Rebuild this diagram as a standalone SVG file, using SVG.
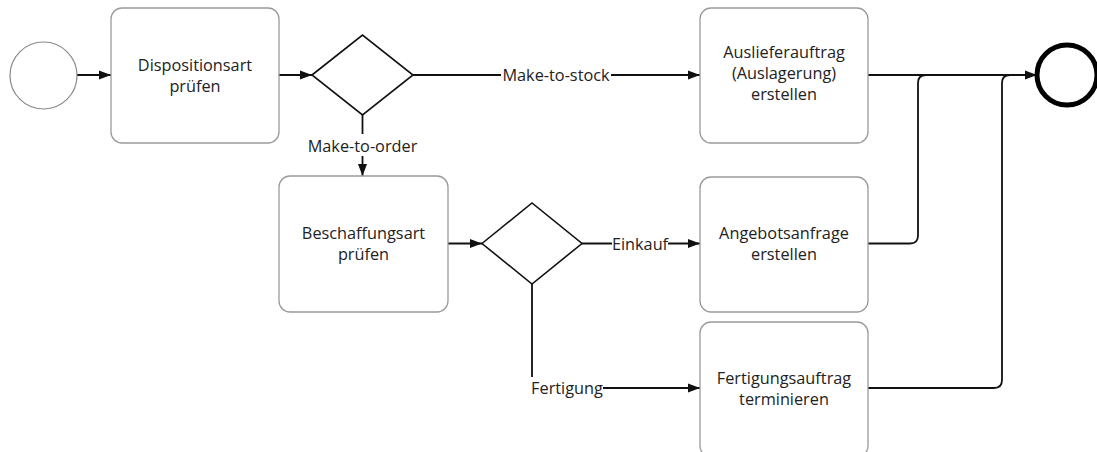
<svg xmlns="http://www.w3.org/2000/svg" width="1097" height="452" viewBox="0 0 1097 452">
<style>
.task{fill:#fff;stroke:#9a9a9a;stroke-width:1.3}
.t{font-family:"Open Sans","Liberation Sans",sans-serif;font-size:16.3px;fill:#222;text-anchor:middle}
.gw{fill:#fff;stroke:#111;stroke-width:1.6}
.c{fill:none;stroke:#111;stroke-width:1.8}
.lbl{font-family:"Open Sans","Liberation Sans",sans-serif;font-size:16.3px;fill:#222;text-anchor:middle}
</style>
<defs>
<marker id="ah" viewBox="0 0 12 10" refX="12" refY="5" markerWidth="12" markerHeight="10" markerUnits="userSpaceOnUse" orient="auto">
<path d="M0,0.5 L12,5 L0,9.5 Z" fill="#111"/>
</marker>
</defs>
<rect width="1097" height="452" fill="#fff"/>
<g id="connectors">
<path class="c" d="M77,75 H111" marker-end="url(#ah)"/>
<path class="c" d="M279,75 H312" marker-end="url(#ah)"/>
<path class="c" d="M413,75 H700" marker-end="url(#ah)"/>
<path class="c" d="M362.5,115 V176" marker-end="url(#ah)"/>
<path class="c" d="M448,243.5 H482" marker-end="url(#ah)"/>
<path class="c" d="M582,243.5 H700" marker-end="url(#ah)"/>
<path class="c" d="M532,284 V388 H700" marker-end="url(#ah)"/>
<path class="c" d="M868,75 H1037" marker-end="url(#ah)"/>
<path class="c" d="M868,243.5 H910 Q918,243.5 918,235.5 V83 Q918,75 926,75"/>
<path class="c" d="M868,388 H994 Q1002,388 1002,380 V83 Q1002,75 1010,75"/>
<rect x="501" y="65" width="110" height="20" fill="#fff"/>
<text class="lbl" x="556" y="81">Make-to-stock</text>
<rect x="306" y="134" width="114" height="22" fill="#fff"/>
<text class="lbl" x="362.5" y="152">Make-to-order</text>
<rect x="612" y="233" width="56" height="20" fill="#fff"/>
<text class="lbl" x="640" y="249.5">Einkauf</text>
<rect x="530" y="377" width="73" height="22" fill="#fff"/>
<text class="lbl" x="567" y="393.5">Fertigung</text>
</g>
<g id="start">
<circle cx="43.5" cy="75.5" r="33.5" fill="#fff" stroke="#8a8a8a" stroke-width="1.2"/>
</g>
<g id="task-dispositionsart">
<rect class="task" x="111" y="8" width="168" height="135" rx="11"/>
<text class="t" x="195" y="70.5">Dispositionsart</text>
<text class="t" x="195" y="92">prüfen</text>
</g>
<g id="gateway1">
<polygon class="gw" points="312,75 362.5,35 413,75 362.5,115"/>
</g>
<g id="task-auslieferauftrag">
<rect class="task" x="700" y="8" width="168" height="135" rx="11"/>
<text class="t" x="784" y="57.5">Auslieferauftrag</text>
<text class="t" x="784" y="78.5">(Auslagerung)</text>
<text class="t" x="784" y="99.5">erstellen</text>
</g>
<g id="end">
<circle cx="1067" cy="75" r="30" fill="#fff" stroke="#000" stroke-width="5"/>
</g>
<g id="task-beschaffungsart">
<rect class="task" x="279" y="176" width="169" height="136" rx="11"/>
<text class="t" x="363.5" y="238.5">Beschaffungsart</text>
<text class="t" x="363.5" y="260">prüfen</text>
</g>
<g id="gateway2">
<polygon class="gw" points="482,243.5 532,203 582,243.5 532,284"/>
</g>
<g id="task-angebotsanfrage">
<rect class="task" x="700" y="177" width="168" height="135" rx="11"/>
<text class="t" x="784" y="238.5">Angebotsanfrage</text>
<text class="t" x="784" y="260">erstellen</text>
</g>
<g id="task-fertigungsauftrag">
<rect class="task" x="700" y="322" width="168" height="135" rx="11"/>
<text class="t" x="784" y="383.5">Fertigungsauftrag</text>
<text class="t" x="784" y="405">terminieren</text>
</g>
</svg>
